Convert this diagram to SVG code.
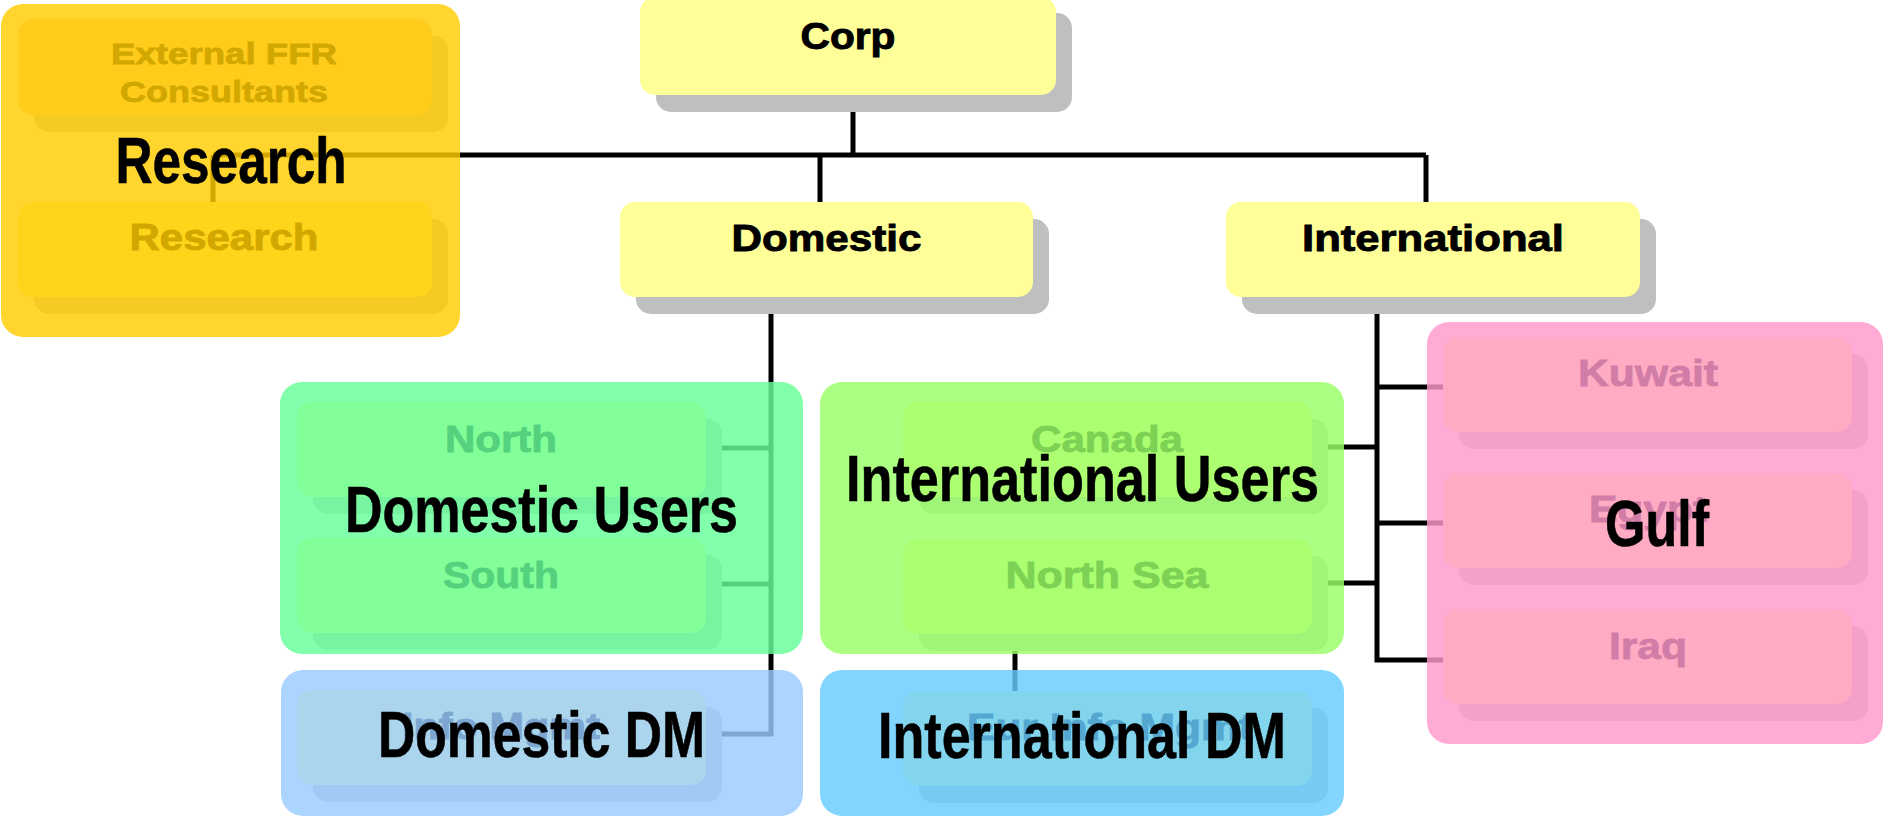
<svg xmlns="http://www.w3.org/2000/svg" width="1885" height="820" viewBox="0 0 1885 820">
  <style>
    .node { fill: #FFFF99; }
    .node-ext { fill: #FFCC99; }
    .shadow { fill: #BFBFBF; }
    .conn { fill: none; stroke: #000000; stroke-width: 5; stroke-linecap: butt; stroke-linejoin: miter; }
    .nt { font-family: "Liberation Sans", Arial, Helvetica, sans-serif; font-weight: bold; font-size: 37px; fill: #000000; stroke: #000000; stroke-width: 0.9px; }
    .nt2 { font-family: "Liberation Sans", Arial, Helvetica, sans-serif; font-weight: bold; font-size: 30px; fill: #000000; stroke: #000000; stroke-width: 0.8px; }
    .big { font-family: "Liberation Sans Narrow", "Liberation Sans", Arial, Helvetica, sans-serif; font-weight: bold; font-size: 64px; fill: #000000; stroke: #000000; stroke-width: 0.6px; }
    .ov { opacity: 0.82; }
  </style>
  <defs>
    <rect id="nodeShape" width="409" height="95" rx="15" ry="15"/>
  </defs>
  <rect x="0" y="0" width="1885" height="820" fill="#FFFFFF"/>

  <!-- connectors -->
  <g id="connectors">
    <path class="conn" d="M853,95 V155"/>
    <path class="conn" d="M213,155 H1426"/>
    <path class="conn" d="M213,155 V202"/>
    <path class="conn" d="M820,155 V202"/>
    <path class="conn" d="M1426,155 V202"/>
    <path class="conn" d="M771,297 V734 H706"/>
    <path class="conn" d="M771,448 H706"/>
    <path class="conn" d="M771,584 H706"/>
    <path class="conn" d="M1377,297 V660 H1443"/>
    <path class="conn" d="M1377,387 H1443"/>
    <path class="conn" d="M1377,523 H1443"/>
    <path class="conn" d="M1377,447 H1312"/>
    <path class="conn" d="M1377,583 H1312"/>
    <path class="conn" d="M1015,635 V691"/>
  </g>

  <!-- org chart nodes -->
  <g id="node-corp">
    <rect class="shadow" x="656" y="13" width="416" height="99" rx="15"/>
    <rect class="node" x="640" y="-3" width="416" height="98" rx="15"/>
    <text class="nt" x="800.5" y="49" textLength="95" lengthAdjust="spacingAndGlyphs">Corp</text>
  </g>
  <g id="node-domestic">
    <rect class="shadow" x="636" y="219" width="413" height="95" rx="15"/>
    <rect class="node" x="620" y="202" width="413" height="95" rx="15"/>
    <text class="nt" x="731.5" y="251" textLength="190" lengthAdjust="spacingAndGlyphs">Domestic</text>
  </g>
  <g id="node-international">
    <rect class="shadow" x="1242" y="219" width="414" height="95" rx="15"/>
    <rect class="node" x="1226" y="202" width="414" height="95" rx="15"/>
    <text class="nt" x="1302" y="251" textLength="262" lengthAdjust="spacingAndGlyphs">International</text>
  </g>
  <g id="node-external-ffr">
    <rect class="shadow" x="34" y="36" width="414" height="96" rx="15"/>
    <rect class="node-ext" x="18" y="19" width="414" height="96" rx="15"/>
    <text class="nt2" x="111" y="64" textLength="226" lengthAdjust="spacingAndGlyphs">External FFR</text>
    <text class="nt2" x="120" y="102" textLength="208" lengthAdjust="spacingAndGlyphs">Consultants</text>
  </g>
  <g id="node-research">
    <rect class="shadow" x="34" y="219" width="414" height="95" rx="15"/>
    <rect class="node" x="18" y="202" width="414" height="95" rx="15"/>
    <text class="nt" style="font-size:36px" x="129.5" y="250" textLength="189" lengthAdjust="spacingAndGlyphs">Research</text>
  </g>
  <g id="node-north">
    <use href="#nodeShape" class="shadow" x="313" y="419"/>
    <use href="#nodeShape" class="node" x="297" y="402"/>
    <text class="nt" x="445" y="452" textLength="112" lengthAdjust="spacingAndGlyphs">North</text>
  </g>
  <g id="node-south">
    <use href="#nodeShape" class="shadow" x="313" y="555"/>
    <use href="#nodeShape" class="node" x="297" y="538"/>
    <text class="nt" x="443" y="588" textLength="116" lengthAdjust="spacingAndGlyphs">South</text>
  </g>
  <g id="node-info-mgmt">
    <use href="#nodeShape" class="shadow" x="313" y="707"/>
    <use href="#nodeShape" class="node" x="297" y="690"/>
    <text class="nt" x="402" y="739" textLength="198" lengthAdjust="spacingAndGlyphs">Info Mgmt</text>
  </g>
  <g id="node-canada">
    <use href="#nodeShape" class="shadow" x="919" y="419"/>
    <use href="#nodeShape" class="node" x="903" y="402"/>
    <text class="nt" x="1031" y="452" textLength="152" lengthAdjust="spacingAndGlyphs">Canada</text>
  </g>
  <g id="node-north-sea">
    <use href="#nodeShape" class="shadow" x="919" y="556"/>
    <use href="#nodeShape" class="node" x="903" y="539"/>
    <text class="nt" x="1005.5" y="588" textLength="203" lengthAdjust="spacingAndGlyphs">North Sea</text>
  </g>
  <g id="node-eur-info-mgmt">
    <use href="#nodeShape" class="shadow" x="919" y="708"/>
    <use href="#nodeShape" class="node" x="903" y="691"/>
    <text class="nt" x="967" y="740" textLength="286" lengthAdjust="spacingAndGlyphs">Eur Info Mgmt</text>
  </g>
  <g id="node-kuwait">
    <use href="#nodeShape" class="shadow" x="1459" y="354"/>
    <use href="#nodeShape" class="node" x="1443" y="337"/>
    <text class="nt" x="1578" y="386" textLength="140" lengthAdjust="spacingAndGlyphs">Kuwait</text>
  </g>
  <g id="node-egypt">
    <use href="#nodeShape" class="shadow" x="1459" y="490"/>
    <use href="#nodeShape" class="node" x="1443" y="473"/>
    <text class="nt" x="1589" y="522" textLength="118" lengthAdjust="spacingAndGlyphs">Egypt</text>
  </g>
  <g id="node-iraq">
    <use href="#nodeShape" class="shadow" x="1459" y="626"/>
    <use href="#nodeShape" class="node" x="1443" y="609"/>
    <text class="nt" x="1609" y="659" textLength="78" lengthAdjust="spacingAndGlyphs">Iraq</text>
  </g>

  <!-- translucent grouping overlays -->
  <g id="group-research">
    <rect class="ov" x="1" y="4" width="459" height="333" rx="22" fill="#FFCC00"/>
    <text class="big" x="115.5" y="183" textLength="231" lengthAdjust="spacingAndGlyphs">Research</text>
  </g>
  <g id="group-domestic-users">
    <rect class="ov" x="280" y="382" width="523" height="272" rx="22" fill="#66FF99"/>
    <text class="big" x="345" y="532" textLength="393" lengthAdjust="spacingAndGlyphs">Domestic Users</text>
  </g>
  <g id="group-international-users">
    <rect class="ov" x="820" y="382" width="524" height="272" rx="22" fill="#99FF66"/>
    <text class="big" x="846" y="501" textLength="473" lengthAdjust="spacingAndGlyphs">International Users</text>
  </g>
  <g id="group-domestic-dm">
    <rect class="ov" x="281" y="670" width="522" height="146" rx="22" fill="#99CCFF"/>
    <text class="big" x="378" y="757" textLength="327" lengthAdjust="spacingAndGlyphs">Domestic DM</text>
  </g>
  <g id="group-international-dm">
    <rect class="ov" x="820" y="670" width="524" height="146" rx="22" fill="#66CCFF"/>
    <text class="big" x="878" y="758" textLength="408" lengthAdjust="spacingAndGlyphs">International DM</text>
  </g>
  <g id="group-gulf">
    <rect class="ov" x="1427" y="322" width="456" height="422" rx="22" fill="#FF99CC"/>
    <text class="big" x="1605" y="546" textLength="104" lengthAdjust="spacingAndGlyphs">Gulf</text>
  </g>
</svg>
